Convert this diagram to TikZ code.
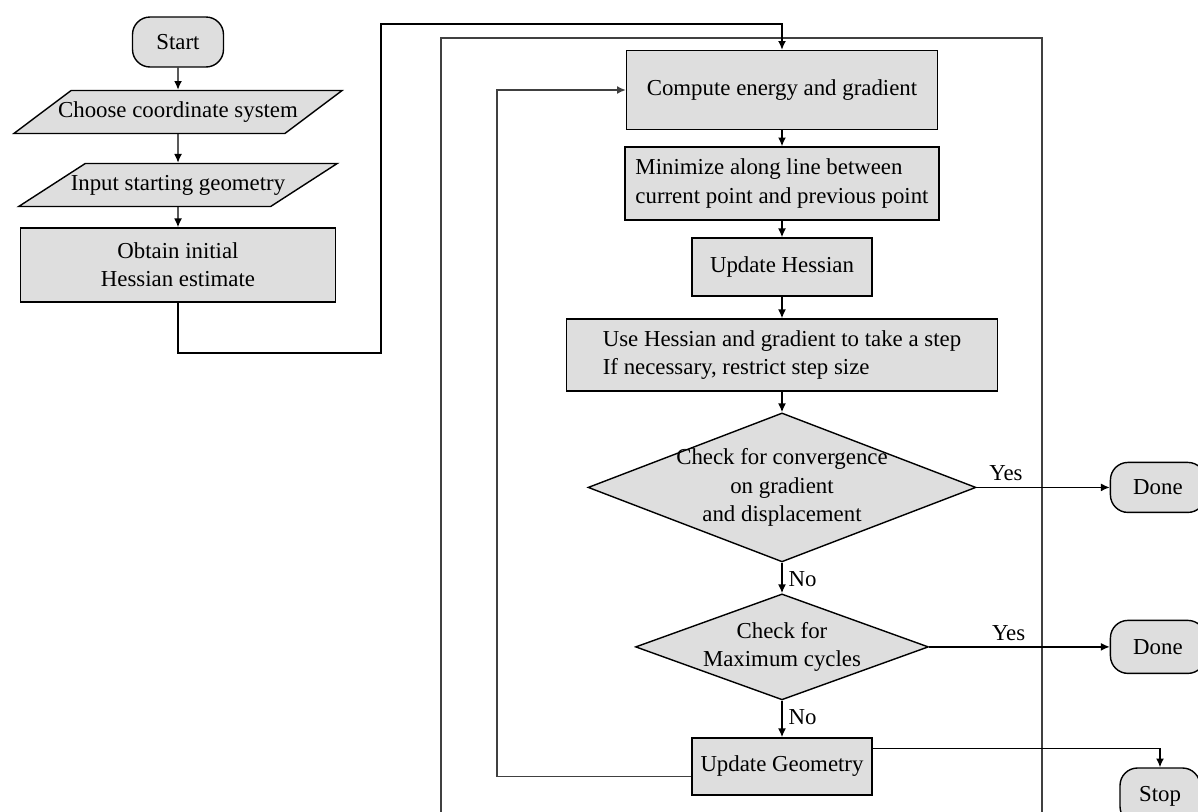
\documentclass[tikz,border=0pt]{standalone}
\usepackage{fontspec}
\setmainfont{Liberation Serif}
\usepackage{tikz}
\usetikzlibrary{shapes.geometric,arrows.meta}
\usetikzlibrary{positioning}

\begin{document}
\begin{tikzpicture}[x=0.02cm, y=-0.02cm, >={Latex[length=5pt,width=4.5pt]}, line width=0.8pt,
  every node/.style={font=\fontsize{13}{16}\selectfont},
  box/.style={draw, fill=black!13, rectangle, inner sep=3pt},
  term/.style={draw, fill=black!13, rounded corners=0.35cm, minimum height=1cm},
  io/.style={draw, fill=black!13, trapezium, trapezium stretches body,
    minimum height=0.86cm, inner ysep=1pt},
  test/.style={draw, fill=black!13, diamond, inner sep=-4pt}]
  \useasboundingbox (0,0) rectangle (1198,812);

  \node (S) [term, minimum width=1.82cm] at (178,42) {Start};
  \node (C) [io, trapezium left angle=23, trapezium right angle=157, inner xsep=-0.26cm,
    node distance=1.4cm, below of=S] {Choose coordinate system};
  \node (I) [io, trapezium left angle=19.5, trapezium right angle=160.5, inner xsep=-0.29cm,
    node distance=1.46cm, below of=C] {Input starting geometry};
  \node (H) [box, minimum width=6.3cm, minimum height=1.48cm, align=center,
    node distance=1.6cm, below of=I] {Obtain initial\\ Hessian estimate};

  \draw[black!75] (441,812) -- (441,38) -- (1042,38) -- (1042,812);

  \node (E) [box, minimum width=6.22cm, minimum height=1.58cm] at (782,90) {Compute energy and gradient};
  \node (M) [box, minimum width=6.28cm, minimum height=1.46cm, align=left,
    node distance=1.87cm, below of=E] {Minimize along line between\\current point and previous point};
  \node (U) [box, minimum width=3.6cm, minimum height=1.16cm, node distance=1.67cm, below of=M] {Update Hessian};
  \node (T) [box, minimum width=8.62cm, minimum height=1.44cm, align=left,
    node distance=1.76cm, below of=U] {Use Hessian and gradient to take a step\\ If necessary, restrict step size};
  \node (V) [test, aspect=2.6, minimum width=7.76cm, minimum height=2.98cm, align=center,
    node distance=2.65cm, below of=T] {Check for convergence\\on gradient\\and displacement};
  \node (X) [test, aspect=2.76, minimum width=5.86cm, minimum height=2.12cm, align=center,
    node distance=3.19cm, below of=V] {Check for\\Maximum cycles};
  \node (G) [box, minimum width=3.6cm, minimum height=1.14cm, node distance=2.39cm, below of=X] {Update Geometry};

  \node (D1) [term, minimum width=1.9cm, node distance=7.52cm, right of=V] {Done};
  \node (D2) [term, minimum width=1.9cm, minimum height=1.06cm, node distance=7.52cm, right of=X] {Done};
  \node (Z) [term, minimum width=1.6cm, minimum height=1.12cm] at (1160,796) {Stop};

  \draw[->] (S) -- (C);
  \draw[->] (C) -- (I);
  \draw[->] (I) -- (H);
  \draw[->] (H.south) |- (381,353) -- (381,24) -| (E.north);
  \draw[->] (E) -- (M);
  \draw[->] (M) -- (U);
  \draw[->] (U) -- (T);
  \draw[->] (T) -- (V);
  \draw[->] (V) to node [right, pos=0.55] {No} (X);
  \draw[->] (X) to node [right, pos=0.45] {No} (G);
  \draw[->] (V) to node [above, pos=0.22] {Yes} (D1);
  \draw[->] (X) to node [above, pos=0.44] {Yes} (D2);
  \draw[->, black!75] ([yshift=-0.2cm]G.west) -| (497,500) |- (E.west);
  \draw[->] ([yshift=0.36cm]G.east) -| (Z.north);
\end{tikzpicture}
\end{document}
